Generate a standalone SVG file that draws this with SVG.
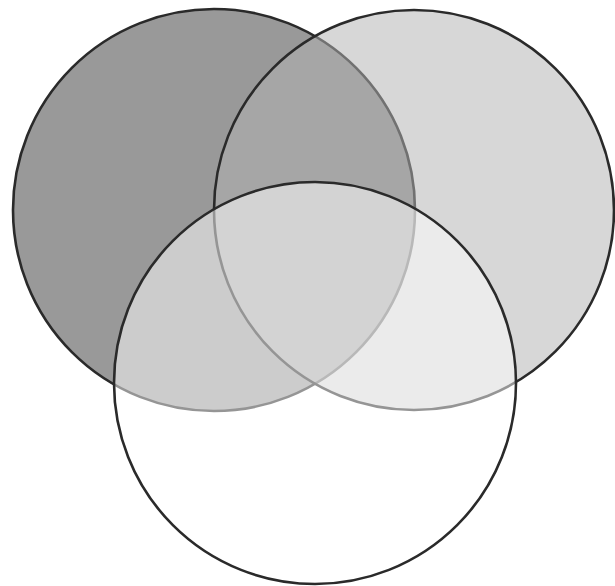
<svg xmlns="http://www.w3.org/2000/svg" width="615" height="586" viewBox="0 0 615 586">
<style>
circle{stroke:#2a2a2a;stroke-width:2.6}
</style>
<rect width="615" height="586" fill="#fff"/>
<g id="left"><circle cx="214" cy="210" r="201" fill="#999999"/></g>
<g id="right"><circle cx="414" cy="210" r="200" fill="#b2b2b2" fill-opacity="0.52"/></g>
<g id="bottom"><circle cx="315" cy="383" r="201" fill="#ffffff" fill-opacity="0.5"/></g>
<g id="connectors"/>
</svg>
